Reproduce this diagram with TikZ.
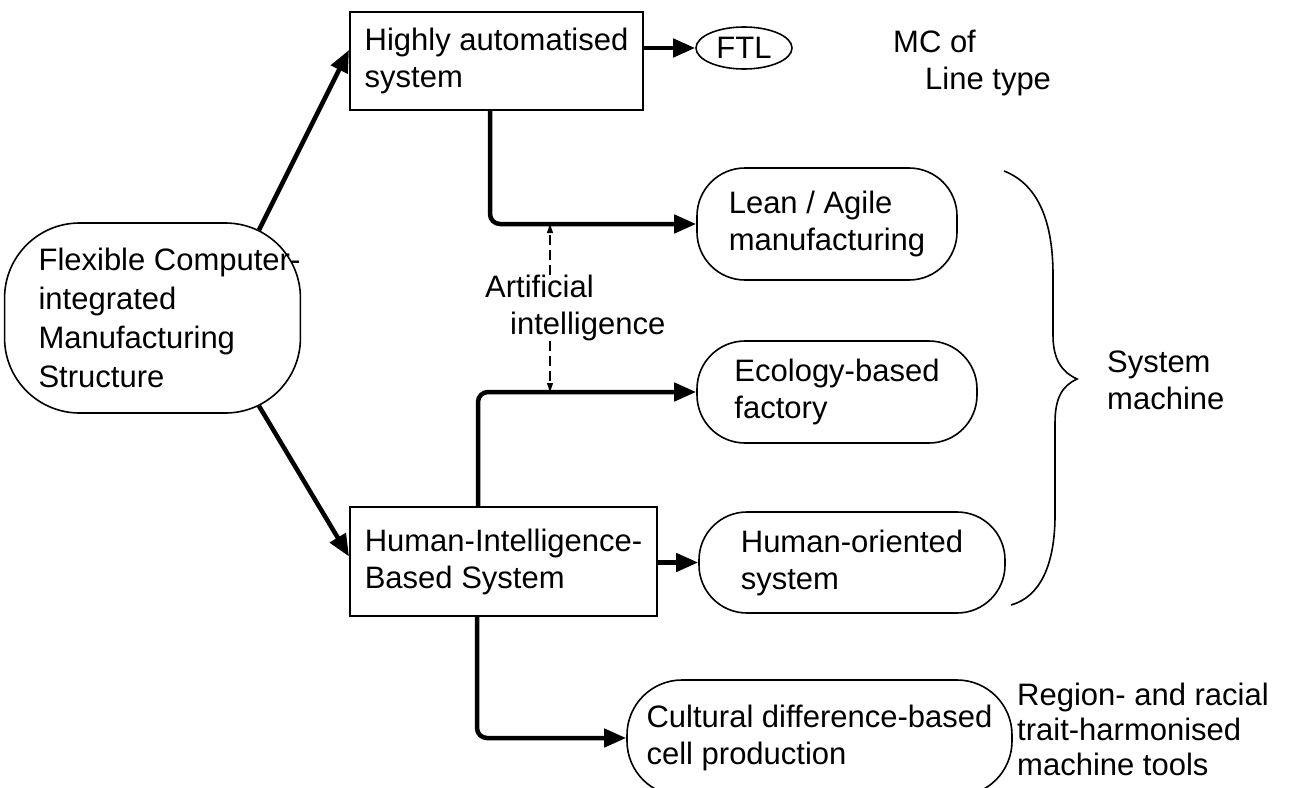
\documentclass[tikz,border=0pt]{standalone}
\usepackage{fontspec}
\setmainfont{Liberation Sans}
\usetikzlibrary{arrows.meta,calc,shapes.geometric}
\begin{document}
\begin{tikzpicture}[x=1pt,y=-1pt,
  every node/.style={font=\fontsize{31}{37}\selectfont},
  sqbox/.style={draw, line width=2pt, rectangle, inner sep=0pt, align=left},
  pill/.style={draw, line width=1.6pt, rectangle, rounded corners=48pt, inner sep=0pt, align=left},
  lbl/.style={inner sep=0pt, align=left, anchor=west},
  flow/.style={line width=4.5pt, -{Triangle[length=22pt,width=18pt]}, rounded corners=10pt},
  aiarrow/.style={line width=1.1pt, dash pattern=on 10pt off 5pt, -{Triangle[length=9pt,width=6pt]}},
  bracestyle/.style={line width=1.6pt}
]
\useasboundingbox (0,0) rectangle (1295,787);

% nodes
\node[draw, rectangle, rounded corners=75pt, line width=1.6pt, minimum width=295pt, minimum height=190pt, inner sep=0pt, align=left, font=\fontsize{31}{39}\selectfont] (flex) at (152.5,318)
  {\hspace*{34pt}Flexible Computer-\\\hspace*{34pt}integrated\\\hspace*{34pt}Manufacturing\\\hspace*{34pt}Structure};
\node[sqbox, minimum width=293pt, minimum height=98pt] (hi) at (496.5,61) {Highly automatised\\system};
\node[draw, ellipse, line width=1.6pt, minimum width=96pt, minimum height=42pt, inner sep=0pt] (ftl) at (744,48) {FTL};
\node[lbl] (mc) at (893,63) {MC of\\\hspace*{32pt}Line type};
\node[sqbox, minimum width=307pt, minimum height=109pt] (hib) at (503.5,561.5) {Human-Intelligence-\\Based System};
\node[pill, minimum width=260pt, minimum height=112pt] (lean) at (827,224) {Lean / Agile\\manufacturing};
\node[pill, minimum width=280pt, minimum height=102pt] (eco) at (837,392) {Ecology-based\\factory};
\node[pill, minimum width=306pt, minimum height=101pt] (hor) at (852,562.5) {Human-oriented\\system};
\node[pill, rounded corners=55pt, minimum width=385pt, minimum height=116pt] (cult) at (819.5,738) {Cultural difference-based\\cell production};
\node[lbl] (ai) at (485,308) {Artificial\\\hspace*{25pt}intelligence};
\node[lbl] (sys) at (1107,380) {System\\machine};
\node[lbl, font=\fontsize{31}{35}\selectfont] (reg) at (1017,729) {Region- and racial\\trait-harmonised\\machine tools};

% connectors
\draw[flow] ($(flex.42)+(0,8)$) -- ($(hi.west)+(0,-11)$);
\draw[flow] ($(flex.-42)+(0,-8)$) -- ($(hib.west)+(0,-5)$);
\draw[flow] (hi.east |- ftl.west) -- (ftl.west);
\draw[flow] ($(hi.south)+(-6.5,0)$) |- (lean.west);
\draw[flow] ($(hib.north)+(-25.5,0)$) |- (eco.west);
\draw[flow] ($(hib.south)+(-26.5,0)$) |- (cult.west);
\draw[flow] (hib.east |- hor.west) -- (hor.west);
\coordinate (aix) at (550,0);
\draw[aiarrow] (ai.north -| aix) -- (aix |- lean.west);
\draw[aiarrow] (ai.south -| aix) -- (aix |- eco.west);

% brace
\draw[bracestyle] (1004,171) .. controls (1040,185) and (1053,225) .. (1053,275)
  -- (1053,335) .. controls (1053,360) and (1062,372) .. (1077,379)
  .. controls (1062,386) and (1055,398) .. (1055,423)
  -- (1055,515) .. controls (1055,565) and (1040,597) .. (1011,605);
\end{tikzpicture}
\end{document}
